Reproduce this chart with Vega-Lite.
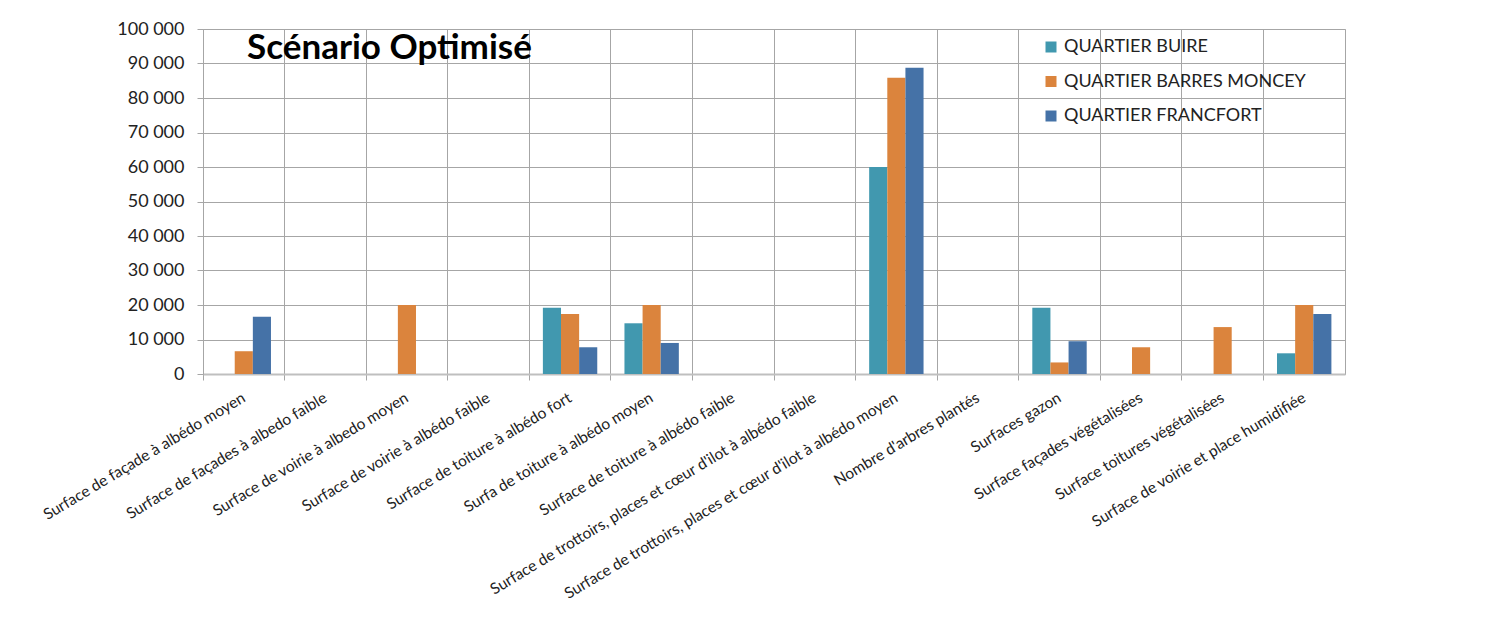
{
  "$schema": "https://vega.github.io/schema/vega-lite/v6.json",
  "width": 1142,
  "height": 345,
  "autosize": {"type": "none"},
  "padding": {"left": 203, "top": 29, "right": 143, "bottom": 248},
  "background": "white",
  "title": {
    "text": "Scénario Optimisé",
    "anchor": "start",
    "frame": "group",
    "orient": "top",
    "offset": 0,
    "baseline": "alphabetic",
    "dx": 44,
    "dy": 74,
    "font": "Lato",
    "fontSize": 35,
    "fontWeight": "bold",
    "color": "#000000"
  },
  "data": {
    "values": [
      {"cat": "Surface de façade à albédo moyen", "q": "QUARTIER BUIRE", "v": 0},
      {"cat": "Surface de façade à albédo moyen", "q": "QUARTIER BARRES MONCEY", "v": 6600},
      {"cat": "Surface de façade à albédo moyen", "q": "QUARTIER FRANCFORT", "v": 16600},
      {"cat": "Surface de façades à albedo faible", "q": "QUARTIER BUIRE", "v": 0},
      {"cat": "Surface de façades à albedo faible", "q": "QUARTIER BARRES MONCEY", "v": 0},
      {"cat": "Surface de façades à albedo faible", "q": "QUARTIER FRANCFORT", "v": 0},
      {"cat": "Surface de voirie à albedo moyen", "q": "QUARTIER BUIRE", "v": 0},
      {"cat": "Surface de voirie à albedo moyen", "q": "QUARTIER BARRES MONCEY", "v": 20000},
      {"cat": "Surface de voirie à albedo moyen", "q": "QUARTIER FRANCFORT", "v": 0},
      {"cat": "Surface de voirie à albédo faible", "q": "QUARTIER BUIRE", "v": 0},
      {"cat": "Surface de voirie à albédo faible", "q": "QUARTIER BARRES MONCEY", "v": 0},
      {"cat": "Surface de voirie à albédo faible", "q": "QUARTIER FRANCFORT", "v": 0},
      {"cat": "Surface de toiture à albédo fort", "q": "QUARTIER BUIRE", "v": 19200},
      {"cat": "Surface de toiture à albédo fort", "q": "QUARTIER BARRES MONCEY", "v": 17400},
      {"cat": "Surface de toiture à albédo fort", "q": "QUARTIER FRANCFORT", "v": 7750},
      {"cat": "Surfa de toiture à albédo moyen", "q": "QUARTIER BUIRE", "v": 14700},
      {"cat": "Surfa de toiture à albédo moyen", "q": "QUARTIER BARRES MONCEY", "v": 20000},
      {"cat": "Surfa de toiture à albédo moyen", "q": "QUARTIER FRANCFORT", "v": 9000},
      {"cat": "Surface de toiture à albédo faible", "q": "QUARTIER BUIRE", "v": 0},
      {"cat": "Surface de toiture à albédo faible", "q": "QUARTIER BARRES MONCEY", "v": 0},
      {"cat": "Surface de toiture à albédo faible", "q": "QUARTIER FRANCFORT", "v": 0},
      {"cat": "Surface de trottoirs, places et cœur d'ilot à albédo faible", "q": "QUARTIER BUIRE", "v": 0},
      {"cat": "Surface de trottoirs, places et cœur d'ilot à albédo faible", "q": "QUARTIER BARRES MONCEY", "v": 0},
      {"cat": "Surface de trottoirs, places et cœur d'ilot à albédo faible", "q": "QUARTIER FRANCFORT", "v": 0},
      {"cat": "Surface de trottoirs, places et cœur d'ilot à albédo moyen", "q": "QUARTIER BUIRE", "v": 60000},
      {"cat": "Surface de trottoirs, places et cœur d'ilot à albédo moyen", "q": "QUARTIER BARRES MONCEY", "v": 85900},
      {"cat": "Surface de trottoirs, places et cœur d'ilot à albédo moyen", "q": "QUARTIER FRANCFORT", "v": 88800},
      {"cat": "Nombre d'arbres plantés", "q": "QUARTIER BUIRE", "v": 0},
      {"cat": "Nombre d'arbres plantés", "q": "QUARTIER BARRES MONCEY", "v": 0},
      {"cat": "Nombre d'arbres plantés", "q": "QUARTIER FRANCFORT", "v": 0},
      {"cat": "Surfaces gazon", "q": "QUARTIER BUIRE", "v": 19200},
      {"cat": "Surfaces gazon", "q": "QUARTIER BARRES MONCEY", "v": 3350},
      {"cat": "Surfaces gazon", "q": "QUARTIER FRANCFORT", "v": 9500},
      {"cat": "Surface façades végétalisées", "q": "QUARTIER BUIRE", "v": 0},
      {"cat": "Surface façades végétalisées", "q": "QUARTIER BARRES MONCEY", "v": 7750},
      {"cat": "Surface façades végétalisées", "q": "QUARTIER FRANCFORT", "v": 0},
      {"cat": "Surface toitures végétalisées", "q": "QUARTIER BUIRE", "v": 0},
      {"cat": "Surface toitures végétalisées", "q": "QUARTIER BARRES MONCEY", "v": 13600},
      {"cat": "Surface toitures végétalisées", "q": "QUARTIER FRANCFORT", "v": 0},
      {"cat": "Surface de voirie  et place humidifiée", "q": "QUARTIER BUIRE", "v": 6000},
      {"cat": "Surface de voirie  et place humidifiée", "q": "QUARTIER BARRES MONCEY", "v": 20000},
      {"cat": "Surface de voirie  et place humidifiée", "q": "QUARTIER FRANCFORT", "v": 17400}
    ]
  },
  "mark": {"type": "bar"},
  "encoding": {
    "x": {
      "field": "cat",
      "type": "nominal",
      "sort": null,
      "title": null,
      "scale": {"paddingInner": 0, "paddingOuter": 0},
      "axis": {
        "bandPosition": 0,
        "labelAngle": -31,
        "labelAlign": "right",
        "labelBaseline": "middle",
        "labelPadding": 16,
        "labelLimit": 500,
        "labelFont": "Lato",
        "labelFontSize": 15.5,
        "labelColor": "#222222",
        "tickSize": 6,
        "tickColor": "#a6a6a6",
        "grid": true,
        "gridColor": "#a6a6a6",
        "domainColor": "#bfbfbf",
        "domainWidth": 2
      }
    },
    "xOffset": {
      "field": "q",
      "type": "nominal",
      "sort": ["QUARTIER BUIRE", "QUARTIER BARRES MONCEY", "QUARTIER FRANCFORT"],
      "scale": {"paddingInner": 0, "paddingOuter": 0.75}
    },
    "y": {
      "field": "v",
      "type": "quantitative",
      "title": null,
      "scale": {"domain": [0, 100000], "nice": false},
      "axis": {
        "values": [0, 10000, 20000, 30000, 40000, 50000, 60000, 70000, 80000, 90000, 100000],
        "labelExpr": "replace(format(datum.value, ','), ',', ' ')",
        "labelFont": "Lato",
        "labelFontSize": 18,
        "labelColor": "#222222",
        "labelPadding": 13,
        "tickSize": 6,
        "tickColor": "#a6a6a6",
        "domainColor": "#a6a6a6",
        "grid": true,
        "gridColor": "#a6a6a6"
      }
    },
    "color": {
      "field": "q",
      "type": "nominal",
      "title": null,
      "scale": {
        "domain": ["QUARTIER BUIRE", "QUARTIER BARRES MONCEY", "QUARTIER FRANCFORT"],
        "range": ["#4198AF", "#DB843D", "#4572A7"]
      },
      "legend": {
        "orient": "none",
        "legendX": 839,
        "legendY": 9,
        "symbolType": "square",
        "symbolSize": 121,
        "symbolStrokeWidth": 0,
        "labelFont": "Lato",
        "labelFontSize": 18,
        "labelColor": "#222222",
        "labelOffset": 4,
        "rowPadding": 16.5,
        "labelLimit": 400
      }
    }
  },
  "config": {
    "view": {"stroke": "#a6a6a6"}
  }
}
